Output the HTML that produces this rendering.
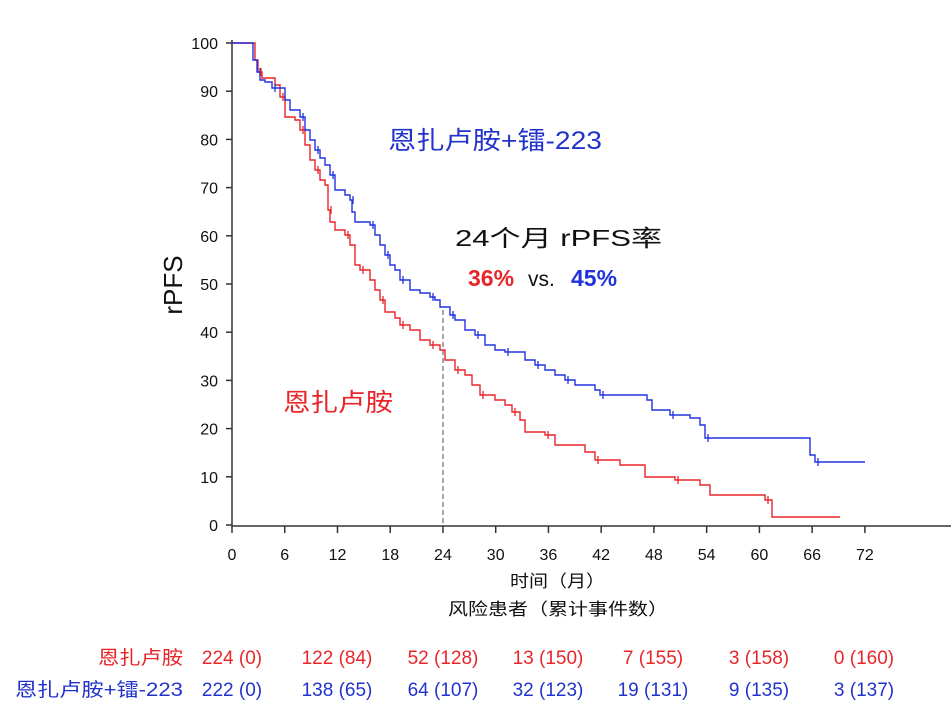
<!DOCTYPE html>
<html><head><meta charset="utf-8"><style>
body{margin:0;background:#fff;}
svg text{font-family:"Liberation Sans","Noto Sans CJK SC",sans-serif;}
</style></head><body>
<svg id="s" width="951" height="713" xmlns="http://www.w3.org/2000/svg">
<rect width="951" height="713" fill="#fff"/>
<g stroke="#333" stroke-width="1.5" fill="none">
<line x1="232" y1="40" x2="232" y2="526"/>
<line x1="232" y1="526" x2="951" y2="526"/>
</g>
<g id="yt" stroke="#333" stroke-width="1.5"></g>
<g id="xt" stroke="#333" stroke-width="1.5"></g>
<g id="yl" font-size="16" fill="#111" text-anchor="end"></g>
<g id="xl" font-size="16" fill="#111" text-anchor="middle"></g>
<line x1="443" y1="310" x2="443" y2="526" stroke="#888" stroke-width="1.5" stroke-dasharray="5,3"/>
<path id="red" fill="none" stroke="#e8262a" stroke-width="1.4"/>
<path id="blue" fill="none" stroke="#2233dd" stroke-width="1.4"/>
<text x="182" y="285" font-size="26" fill="#111" transform="rotate(-90 182 285)" text-anchor="middle">rPFS</text>
<text x="388" y="149" font-size="25" fill="#2233cc" textLength="214" lengthAdjust="spacingAndGlyphs">恩扎卢胺+镭-223</text>
<text x="455" y="246" font-size="23" fill="#111" textLength="207" lengthAdjust="spacingAndGlyphs">24个月 rPFS率</text>
<text x="468" y="286" font-size="23" font-weight="bold" fill="#e8262a">36%</text>
<text x="528" y="286" font-size="21" fill="#111">vs.</text>
<text x="571" y="286" font-size="23" font-weight="bold" fill="#2233dd">45%</text>
<text x="283" y="411" font-size="25" fill="#e8262a" textLength="110" lengthAdjust="spacingAndGlyphs">恩扎卢胺</text>
<text x="510" y="587" font-size="17" fill="#111" textLength="95" lengthAdjust="spacingAndGlyphs">时间（月）</text>
<text x="448" y="615" font-size="17" fill="#111" textLength="220" lengthAdjust="spacingAndGlyphs">风险患者（累计事件数）</text>
<g font-size="19" fill="#e8262a" text-anchor="middle">
<text x="98" y="664" textLength="85" lengthAdjust="spacingAndGlyphs" text-anchor="start">恩扎卢胺</text>
<text x="232" y="664">224 (0)</text><text x="337" y="664">122 (84)</text><text x="443" y="664">52 (128)</text><text x="548" y="664">13 (150)</text><text x="653" y="664">7 (155)</text><text x="759" y="664">3 (158)</text><text x="864" y="664">0 (160)</text>
</g>
<g font-size="19" fill="#2233cc" text-anchor="middle">
<text x="15" y="696" textLength="168" lengthAdjust="spacingAndGlyphs" text-anchor="start">恩扎卢胺+镭-223</text>
<text x="232" y="696">222 (0)</text><text x="337" y="696">138 (65)</text><text x="443" y="696">64 (107)</text><text x="548" y="696">32 (123)</text><text x="653" y="696">19 (131)</text><text x="759" y="696">9 (135)</text><text x="864" y="696">3 (137)</text>
</g>
</svg>
<script>
const NS="http://www.w3.org/2000/svg";
function el(p,t,a,txt){const e=document.createElementNS(NS,t);for(const k in a)e.setAttribute(k,a[k]);if(txt!==undefined)e.textContent=txt;document.getElementById(p).appendChild(e);}
for(let v=0;v<=100;v+=10){const y=525-v*4.82;el("yt","line",{x1:226,x2:232,y1:y,y2:y});el("yl","text",{x:218,y:y+6},v);}
for(let m=0;m<=72;m+=6){const x=232+m*8.79;el("xt","line",{x1:x,x2:x,y1:526,y2:533});el("xl","text",{x:x,y:560},m);}
function step(id,pts){let d="M232,43";for(const [x,y] of pts){d+=" H"+x+" V"+y;}document.getElementById(id).setAttribute("d",d);
const g=document.getElementById("s");pts.forEach((p,i)=>{if(i%3==1){const c=document.createElementNS(NS,"path");c.setAttribute("d",`M${p[0]+3},${p[1]-4}v8`);c.setAttribute("stroke",id=="red"?"#e8262a":"#2233dd");c.setAttribute("stroke-width","1.3");g.appendChild(c);}});}
step("blue",[[253,60],[257,72],[260,80],[265,82],[272,88],[285,100],[290,110],[300,117],[305,130],[310,140],[315,150],[320,158],[325,165],[330,175],[335,190],[345,195],[350,200],[352,212],[355,222],[370,225],[375,235],[380,245],[385,255],[390,265],[395,270],[400,280],[410,290],[420,293],[430,297],[435,300],[440,307],[450,315],[455,320],[465,330],[475,335],[485,345],[495,350],[505,352],[520,352],[525,360],[535,365],[545,370],[555,375],[565,380],[575,385],[595,390],[600,395],[647,400],[652,410],[670,415],[690,418],[700,425],[705,438],[805,438],[810,455],[815,462],[865,462]]);
step("red",[[255,60],[258,72],[262,78],[275,85],[280,97],[285,117],[295,120],[300,130],[305,145],[310,160],[315,170],[320,180],[325,185],[328,210],[330,222],[335,230],[345,235],[350,245],[355,265],[360,270],[370,280],[375,290],[380,300],[385,312],[395,318],[400,325],[410,330],[420,340],[430,345],[440,350],[445,360],[455,370],[465,375],[472,385],[480,395],[495,400],[505,405],[512,412],[520,420],[525,432],[545,435],[555,445],[585,452],[595,460],[620,465],[645,477],[675,480],[700,485],[710,495],[765,500],[772,517],[840,517]]);
</script>
</body></html>
